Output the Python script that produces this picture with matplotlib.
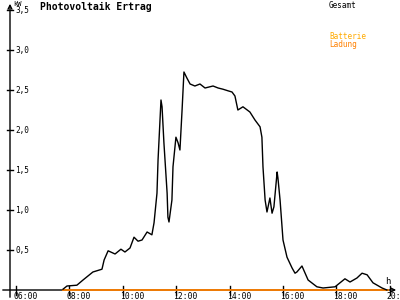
import matplotlib
matplotlib.use("Agg")
import matplotlib.pyplot as plt

# data (hours, kW)
hours = [7.76, 7.91, 8.28, 8.51, 8.88, 9.22, 9.30, 9.45, 9.71, 9.93, 10.08, 10.27, 10.42, 10.57,
         10.72, 10.91, 11.09, 11.17, 11.28, 11.32, 11.43, 11.47, 11.54, 11.66, 11.69, 11.73, 11.84,
         11.88, 11.99, 12.07, 12.14, 12.22, 12.29, 12.40, 12.52, 12.70, 12.89, 13.08, 13.38, 13.57,
         13.75, 13.94, 14.09, 14.20, 14.31, 14.50, 14.76, 14.95, 15.14, 15.21, 15.25, 15.33, 15.40,
         15.51, 15.59, 15.66, 15.78, 15.81, 15.89, 16.00, 16.15, 16.34, 16.45, 16.52, 16.71, 16.94,
         17.27, 17.50, 17.95, 18.32, 18.51, 18.77, 18.96, 19.15, 19.37, 19.71, 19.89]
gesamt = [0.01, 0.05, 0.06, 0.125, 0.225, 0.26, 0.375, 0.49, 0.45, 0.51, 0.475, 0.525, 0.66, 0.61,
          0.625, 0.725, 0.69, 0.84, 1.21, 1.625, 2.375, 2.29, 1.84, 1.21, 0.91, 0.85, 1.125,
          1.54, 1.91, 1.84, 1.75, 2.25, 2.725, 2.65, 2.575, 2.55, 2.575, 2.525, 2.55, 2.525,
          2.51, 2.49, 2.475, 2.425, 2.25, 2.29, 2.225, 2.125, 2.04, 1.91, 1.54, 1.125, 0.975,
          1.15, 0.96, 1.04, 1.475, 1.4, 1.125, 0.625, 0.41, 0.275, 0.21, 0.225, 0.30, 0.125,
          0.04, 0.025, 0.04, 0.14, 0.10, 0.15, 0.21, 0.19, 0.09, 0.025, 0.0]
ladung_hours = [7.75, 19.95]
ladung = [0.0, 0.0]

x_ticks = [6, 8, 10, 12, 14, 16, 18, 20]
x_labels = ["06:00", "08:00", "10:00", "12:00", "14:00", "16:00", "18:00", "20:00"]
y_ticks = [0.5, 1.0, 1.5, 2.0, 2.5, 3.0, 3.5]
y_labels = ["0,5", "1,0", "1,5", "2,0", "2,5", "3,0", "3,5"]

# pixel mapping
PX_H = 26.7
X0 = 16
PX_K = 80
Y0 = 290

def hx(px):
    return 6 + (px - X0) / PX_H

def ky(py):
    return (Y0 - py) / PX_K

fig = plt.figure(figsize=(4, 3), dpi=100)
ax = fig.add_axes([0, 0, 1, 1])
ax.set_xlim(hx(0), hx(400))
ax.set_ylim(ky(300), ky(0))
ax.axis("off")

mono = "DejaVu Sans Mono"

# axes lines with arrows
ax.annotate("", xy=(hx(399), 0), xytext=(hx(0), 0),
            arrowprops=dict(arrowstyle="->", lw=1.0, color="black", mutation_scale=7))
ax.annotate("", xy=(hx(10), ky(1)), xytext=(hx(10), ky(300)),
            arrowprops=dict(arrowstyle="->", lw=1.0, color="black", mutation_scale=7))

# orange Ladung line
ax.plot(ladung_hours, ladung, color="#FF8000", lw=1.3, zorder=3)

# Gesamt curve
ax.plot(hours, gesamt, color="black", lw=1.0, zorder=4)

# y ticks
for v, lab in zip(y_ticks, y_labels):
    ax.plot([hx(7), hx(13)], [v, v], color="black", lw=1.0)
    ax.text(hx(15), v, lab, fontsize=5.6, family=mono, va="center", ha="left")

# x ticks
for t, lab in zip(x_ticks, x_labels):
    ax.plot([t, t], [ky(286), ky(295)], color="black", lw=1.0)
    ax.text(t - 3 / PX_H, ky(292), lab, fontsize=5.8, family=mono, va="top", ha="left")

# unit labels
ax.text(hx(13), ky(0.5), "kW", fontsize=5.0, family=mono, va="top", ha="left")
ax.text(hx(385), ky(286), "h", fontsize=6.5, family=mono, va="bottom", ha="left")

# title and legend
fig.text(40 / 400, 1 - 2 / 300, "Photovoltaik Ertrag", fontsize=7, family=mono,
         fontweight="bold", va="top", ha="left")
fig.text(329 / 400, 1 - 1 / 300, "Gesamt", fontsize=5.5, family=mono, va="top", ha="left",
         color="black")
fig.text(329 / 400, 1 - 32 / 300, "Batterie", fontsize=5.5, family=mono, va="top", ha="left",
         color="#FFAA00")
fig.text(329 / 400, 1 - 40 / 300, "Ladung", fontsize=5.5, family=mono, va="top", ha="left",
         color="#FF8000")

fig.savefig("out.png", dpi=100)
